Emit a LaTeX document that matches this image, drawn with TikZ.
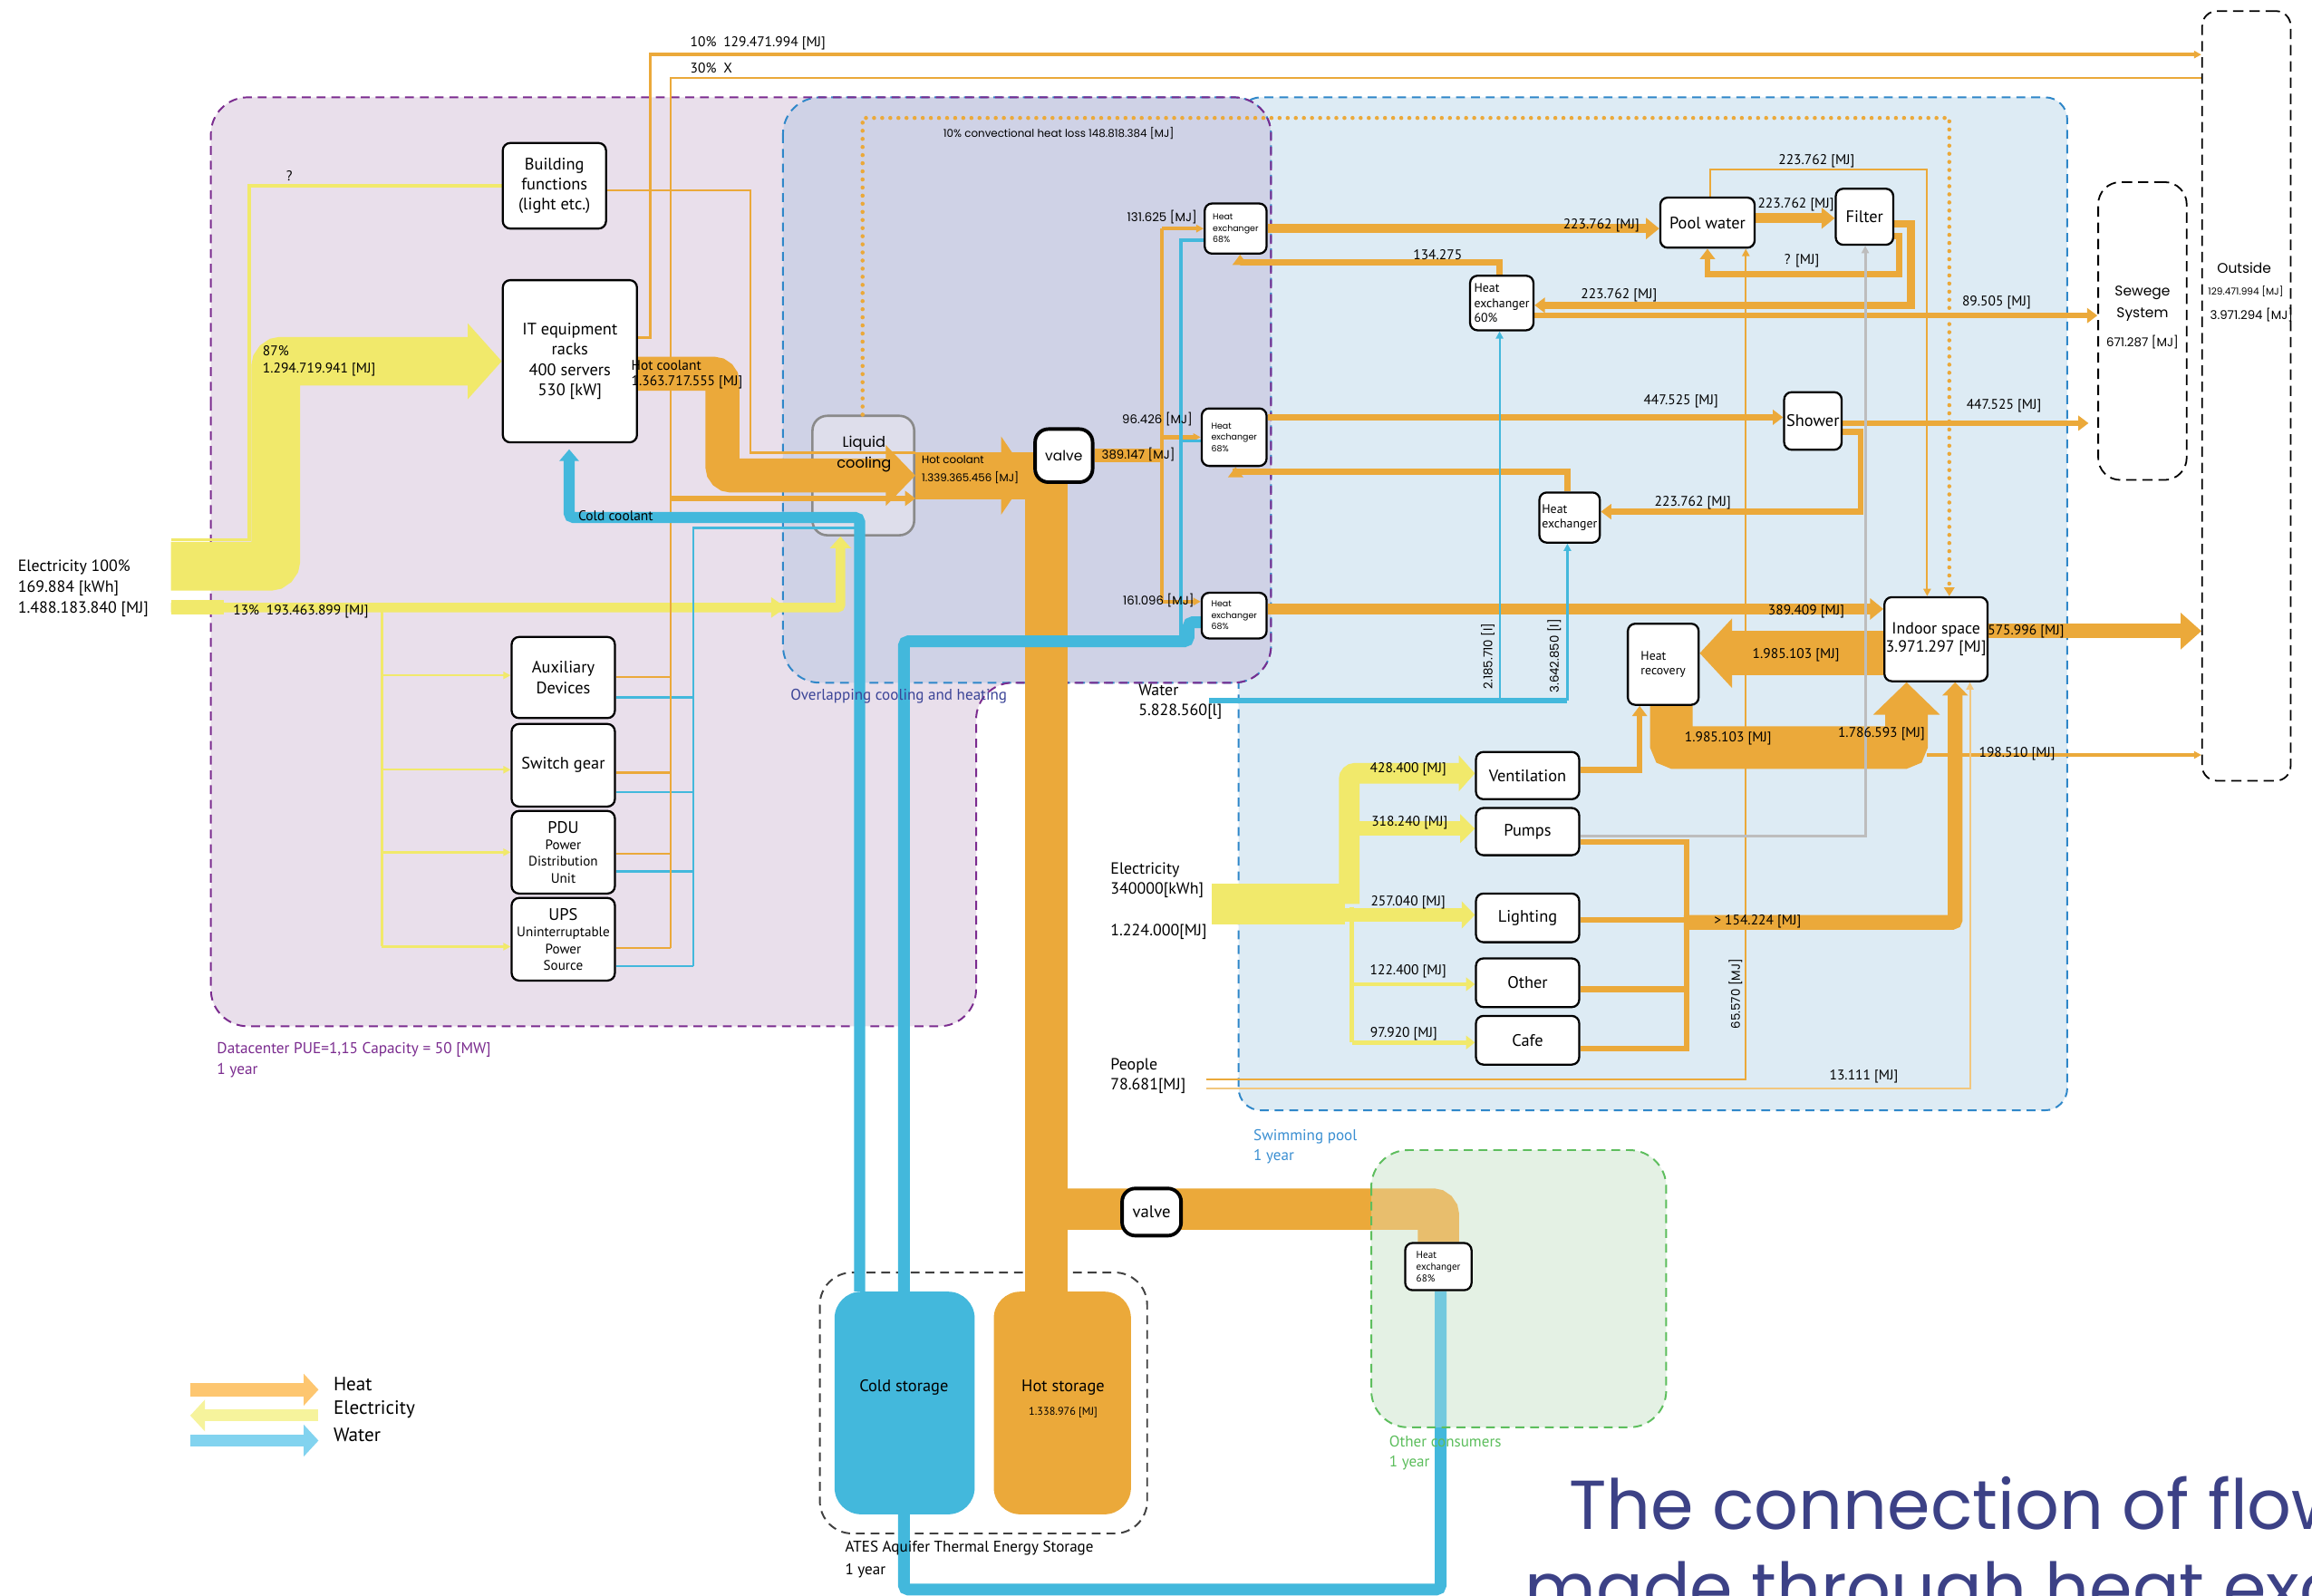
\documentclass[tikz,border=0pt]{standalone}
\usepackage{fontspec}
\setmainfont{PT Sans}
\newfontfamily\geo{Poppins}
\usetikzlibrary{arrows.meta}

\definecolor{heat}{HTML}{EBA93A}
\definecolor{heatlight}{HTML}{F2C77E}
\definecolor{elec}{HTML}{F1E96B}
\definecolor{wat}{HTML}{43B8DC}
\definecolor{dcfill}{HTML}{E9DFEB}
\definecolor{ovfill}{HTML}{CFD2E6}
\definecolor{poolfill}{HTML}{DDEBF4}
\definecolor{ocfill}{HTML}{E4F1E4}
\definecolor{dcline}{HTML}{7B2C8F}
\definecolor{blueline}{HTML}{2F87C9}
\definecolor{ocline}{HTML}{5DBE5D}
\definecolor{titleblue}{HTML}{3C4186}
\definecolor{poollab}{HTML}{3A8FD2}
\definecolor{ovlab}{HTML}{3B4497}
\definecolor{greyflow}{HTML}{BDBDBD}
\definecolor{lcgrey}{HTML}{8A8A8A}
\definecolor{lcfill}{HTML}{DEDEEB}
\definecolor{lheat}{HTML}{FDC670}
\definecolor{lelec}{HTML}{F6F39C}
\definecolor{lwat}{HTML}{82D3EF}

\newcommand\smallbox{\fontsize{9.3}{11}\selectfont}

\pgfdeclarelayer{areas}
\pgfdeclarelayer{flows}
\pgfdeclarelayer{over}
\pgfsetlayers{areas,flows,over,main}

\begin{document}
\begin{tikzpicture}[x=1pt, y=-1pt,
  box/.style={draw=black, line width=1.4pt, rounded corners=5pt, fill=white,
    align=center, inner sep=0pt, font=\fontsize{11.3}{13.8}\selectfont},
  hxbox/.style={box, align=left, font=\geo\fontsize{5.8}{7.7}\selectfont},
  hxmy/.style={box, align=left, font=\fontsize{8.5}{10.2}\selectfont},
  valvebox/.style={box, line width=2.4pt, rounded corners=9pt},
  lab/.style={inner sep=0pt, font=\fontsize{9.5}{11}\selectfont},
  glab/.style={inner sep=0pt, font=\geo\fontsize{8.2}{10}\selectfont},
  big/.style={inner sep=0pt, anchor=west, align=left, font=\fontsize{11}{14}\selectfont},
  arealab/.style={inner sep=0pt, anchor=west, align=left, font=\fontsize{10.5}{13.5}\selectfont},
  hl/.style={draw=heat, line width=#1},
  el/.style={draw=elec, line width=#1},
  wl/.style={draw=wat, line width=#1},
  sa/.style={-{Triangle[length=5pt,width=5pt]}},
  ma/.style={-{Triangle[length=7pt,width=10pt]}},
  la/.style={-{Triangle[length=9pt,width=14pt]}},
  region/.style={line width=1.2pt, dash pattern=on 6pt off 4pt},
]
\useasboundingbox (0,0) rectangle (1568,1082);
\clip (0,0) rectangle (1568,1082);

% ================= boxes =================
% data centre
\node[box, minimum width=70pt, minimum height=58pt] (bf) at (376,126) {Building\\functions\\(light etc.)};
\node[box, minimum width=91pt, minimum height=110pt] (it) at (386.5,245) {IT equipment\\racks\\400 servers\\530 [kW]};
\node[box, minimum width=70pt, minimum height=55pt] (aux) at (382,459.5) {Auxiliary\\Devices};
\node[box, minimum width=70pt, minimum height=56pt] (sw) at (382,519) {Switch gear};
\node[box, minimum width=70pt, minimum height=56pt] (pdu) at (382,578) {PDU\\[-2.5pt]{\smallbox Power}\\[-2.5pt]{\smallbox Distribution}\\[-2.5pt]{\smallbox Unit}};
\node[box, minimum width=70pt, minimum height=56pt] (ups) at (382,637) {UPS\\[-2.5pt]{\smallbox Uninterruptable}\\[-2.5pt]{\smallbox Power}\\[-2.5pt]{\smallbox Source}};
% overlapping cooling and heating
\node[valvebox, minimum width=39pt, minimum height=36pt, font=\geo\fontsize{9.5}{11}\selectfont] (valve1) at (721.5,309) {valve};
\node[hxbox, minimum width=42pt, minimum height=34pt] (hx1) at (838,155) {Heat\\exchanger\\68\%};
\node[hxbox, minimum width=44pt, minimum height=39pt] (hx2) at (837,296.5) {Heat\\exchanger\\68\%};
\node[hxbox, minimum width=44pt, minimum height=31pt] (hx3) at (837,417.5) {Heat\\exchanger\\68\%};
% swimming pool
\node[box, minimum width=64pt, minimum height=34pt] (pool) at (1158,151) {Pool water};
\node[box, minimum width=39pt, minimum height=38pt] (filt) at (1264.5,147) {Filter};
\node[hxmy, minimum width=43pt, minimum height=37pt] (hx60) at (1018.5,205.5) {Heat\\exchanger\\60\%};
\node[box, minimum width=39pt, minimum height=39pt] (shower) at (1229.5,285.5) {Shower};
\node[hxmy, minimum width=41pt, minimum height=34pt] (hx4) at (1064.5,351) {Heat\\exchanger};
\node[box, minimum width=70pt, minimum height=57pt, font=\fontsize{11}{12.8}\selectfont] (indoor) at (1313,433.5) {Indoor space\\3.971.297 [MJ]};
\node[hxmy, minimum width=48pt, minimum height=55pt] (hr) at (1128,450.5) {Heat\\recovery};
\node[box, minimum width=70pt, minimum height=32pt] (vent) at (1036,526) {Ventilation};
\node[box, minimum width=70pt, minimum height=32pt] (pumps) at (1036,564) {Pumps};
\node[box, minimum width=70pt, minimum height=33pt] (light) at (1036,622.5) {Lighting};
\node[box, minimum width=70pt, minimum height=33pt] (other) at (1036,666.5) {Other};
\node[box, minimum width=70pt, minimum height=33pt] (cafe) at (1036,705.5) {Cafe};
% other consumers
\node[valvebox, minimum width=40pt, minimum height=32pt, font=\fontsize{11.5}{13}\selectfont] (valve2) at (781,822) {valve};
\node[box, align=left, minimum width=45pt, minimum height=32pt, font=\fontsize{6.8}{8}\selectfont] (hx5) at (975.5,859) {Heat\\exchanger\\68\%};
% sinks
\node[draw=black, line width=1.1pt, dash pattern=on 7pt off 4pt, rounded corners=10pt, minimum width=60pt, minimum height=522pt, inner sep=0pt] (outside) at (1523.5,268.5) {};
\node[draw=black, line width=1.1pt, dash pattern=on 7pt off 4pt, rounded corners=15pt, minimum width=60pt, minimum height=202pt, inner sep=0pt] (sewer) at (1453,224.5) {};

% ================= areas =================
\begin{pgfonlayer}{areas}
\fill[white] (0,0) rectangle (1568,1082);
\fill[dcfill, rounded corners=25pt] (143,300) -- (143,66) -- (862,66) -- (862,463) -- (662,463) -- (662,696) -- (143,696) -- cycle;
\fill[poolfill, rounded corners=15pt] (840,66) rectangle (1402,753);
\draw[region, blueline, rounded corners=15pt] (840,66) rectangle (1402,753);
\fill[ovfill, rounded corners=25pt] (531,66) rectangle (862,463);
\draw[region, blueline, rounded corners=25pt] (531,66) rectangle (862,463);
\draw[region, dcline, rounded corners=25pt] (143,300) -- (143,66) -- (862,66) -- (862,463) -- (662,463) -- (662,696) -- (143,696) -- cycle;
\fill[ocfill, rounded corners=25pt] (930,780) rectangle (1130,968);
\draw[region, black!75, rounded corners=22pt] (556,863) rectangle (778,1040);
\node[fill=wat, rounded corners=18pt, minimum width=95pt, minimum height=151pt, inner sep=0pt] (cold) at (613.5,951.5) {};
\node[fill=heat, rounded corners=18pt, minimum width=93pt, minimum height=151pt, inner sep=0pt] (hot) at (720.5,951.5) {};
\node[draw=lcgrey, line width=1.6pt, fill=lcfill, rounded corners=10pt, minimum width=69pt, minimum height=81pt, inner sep=0pt] (lc) at (585.5,322.5) {};
\end{pgfonlayer}

% ================= flows =================
\begin{pgfonlayer}{flows}
% electricity of the data centre
\coordinate (ein) at (116,384);
\draw[el=33pt, rounded corners=4pt, -{Triangle[length=23pt,width=50pt]}] (ein) -- (187,384) -- (187,245) -- (it.west);
\draw[el=2.2pt] (116,366) -- (169,366) -- (169,126) -- (bf.west);
\draw[el=10pt] (116,412) -- (152,412);
\draw[el=6.5pt, rounded corners=2pt, -{Triangle[length=8pt,width=14pt]}] (116,412) -- (570,412) -- (lc.south -| 570,0);
\fill[elec] (523,405) -- (533,412) -- (523,419) -- cycle;
\draw[el=1.4pt] (259,412) -- (259,642);
\foreach \b/\y in {aux/458, sw/522, pdu/578, ups/642}
  \draw[el=1.4pt, sa] (259,\y) -- (\b.west |- 0,\y);
% heat and water lines of the auxiliary equipment
\foreach \b/\y in {aux/459, sw/524, pdu/579, ups/643}
  \draw[hl=1.4pt] (\b.east |- 0,\y) -- (455,\y);
\foreach \b/\y in {aux/473, sw/537, pdu/591, ups/655}
  \draw[wl=1.3pt] (\b.east |- 0,\y) -- (470,\y);
\draw[hl=1.4pt] (455,643) -- (455,53) -- (outside.west |- 0,53);
\draw[wl=1.3pt] (470,655) -- (470,358) -- (583,358);
\draw[hl=2.3pt, sa] (it.east |- 0,229) -- (441,229) -- (441,37) -- (outside.west |- 0,37);
\draw[hl=1.3pt] (bf.east |- 0,129) -- (509,129) -- (509,307) -- (lc.east |- 0,307);
% hot coolant
\draw[hl=23pt, rounded corners=6pt, -{Triangle[length=20pt,width=40pt]}] (it.east |- 0,253.5) -- (490,253.5) -- (490,322.5) -- (lc.east);
\draw[hl=4pt, -{Triangle[length=7pt,width=10pt]}] (455,338) -- (lc.east |- 0,338);
\draw[hl=32pt] (lc.east) -- (lc.east -| valve1.west);
\fill[heat] (679,296) -- (697,322.5) -- (679,349) -- cycle;
\draw[hl=29pt] (709.5,320) -- (hot.north -| 709.5,0);
\draw[hl=28pt, rounded corners=4pt] (709.5,820) -- (975.5,820) -- (hx5.north);
% valve to the heat exchangers
\draw[hl=9pt] (valve1.east) -- (788,309);
\draw[hl=2.6pt] (788,155) -- (788,408);
\draw[hl=2.6pt, sa] (788,155) -- (hx1.west);
\draw[hl=2.6pt, sa] (788,296.5) -- (hx2.west);
\draw[hl=2.6pt, sa] (788,408) -- (hx3.west |- 0,408);
% cold water
\draw[wl=7.5pt, rounded corners=3pt, shorten >=4pt, -{Triangle[length=8pt,width=13pt]}] (cold.north -| 583,0) -- (583,351) -- (386,351) -- (it.south -| 386,0);
\draw[wl=8pt, rounded corners=3pt] (cold.north -| 613,0) -- (613,435) -- (806,435) -- (806,422) -- (hx3.west |- 0,422);
\draw[wl=2.2pt] (hx1.west |- 0,163) -- (801,163) -- (801,435);
\draw[wl=2.2pt] (801,299) -- (hx2.west |- 0,299);
\draw[wl=8pt, rounded corners=3pt] (cold.south -| 613,0) -- (613,1078) -- (977,1078) -- (hx5.south -| 977,0);
% swimming pool heat
\draw[hl=6pt, la] (hx1.east) -- (pool.west |- hx1.east);
\draw[hl=7pt, la] (pool.east |- 0,148) -- (filt.west |- 0,148);
\draw[hl=1.3pt, sa] (pool.north -| 1160,0) -- (1160,115) -- (1307,115) -- (indoor.north -| 1307,0);
\draw[hl=5pt, ma] (filt.east |- 0,152) -- (1296,152) -- (1296,207) -- (hx60.east |- 0,207);
\draw[hl=4pt, ma] (filt.east |- 0,160) -- (1288,160) -- (1288,186) -- (1158,186) -- (pool.south -| 1158,0);
\draw[hl=4pt, ma] (hx60.north -| 1017,0) -- (1017,178) -- (841,178) -- (hx1.south -| 841,0);
\draw[hl=4pt, ma] (hx60.east |- 0,214) -- (sewer.west |- 0,214);
\draw[hl=4pt, ma] (hx2.east |- 0,283) -- (shower.west |- 0,283);
\draw[hl=4pt, ma, shorten >=6pt] (shower.east |- 0,287) -- (sewer.west |- 0,287);
\draw[hl=4pt, ma] (shower.east |- 0,293) -- (1262,293) -- (1262,347) -- (hx4.east |- 0,347);
\draw[hl=4pt, ma] (hx4.north -| 1063,0) -- (1063,320) -- (838,320) -- (hx2.south -| 838,0);
\draw[hl=7pt, la] (hx3.east |- 0,413) -- (indoor.west |- 0,413);
\draw[hl=30pt, -{Triangle[length=22pt,width=46pt]}] (indoor.west |- 0,443) -- (hr.east |- 0,443);
\draw[hl=29pt, rounded corners=3pt, -{Triangle[length=22pt,width=44pt]}] (hr.south -| 1133.5,0) -- (1133.5,507) -- (1293,507) -- (indoor.south -| 1293,0);
\draw[hl=2.5pt, sa] (1307,512) -- (outside.west |- 0,512);
\draw[hl=10pt, -{Triangle[length=14pt,width=24pt]}] (indoor.east |- 0,428) -- (outside.west |- 0,428);
\draw[hl=4pt, ma] (vent.east |- 0,522) -- (1112,522) -- (hr.south -| 1112,0);
\draw[hl=4pt] (pumps.east |- 0,571) -- (1144,571) -- (1144,711) -- (cafe.east |- 0,711);
\draw[hl=4pt] (light.east |- 0,624) -- (1144,624);
\draw[hl=4pt] (other.east |- 0,671) -- (1144,671);
\draw[hl=10pt, rounded corners=2pt, -{Triangle[length=9pt,width=17pt]}] (1142,625.5) -- (1326,625.5) -- (indoor.south -| 1326,0);
% swimming pool electricity
\coordinate (ein2) at (822,613);
\draw[el=28pt] (ein2) -- (912,613);
\draw[el=14pt, rounded corners=4pt, -{Triangle[length=11pt,width=24pt]}] (915,613) -- (915,524.5) -- (vent.west |- 0,524.5);
\draw[el=10pt, -{Triangle[length=10pt,width=19pt]}] (918,562) -- (pumps.west |- 0,562);
\draw[el=9pt, -{Triangle[length=9pt,width=18pt]}] (905,620.5) -- (light.west |- 0,620.5);
\draw[el=3pt] (917,615) -- (917,707);
\draw[el=3pt, -{Triangle[length=6pt,width=9pt]}] (917,667.5) -- (other.west |- 0,667.5);
\draw[el=3pt, -{Triangle[length=6pt,width=9pt]}] (917,707) -- (cafe.west |- 0,707);
% people
\coordinate (pin) at (818,732);
\draw[hl=1.2pt, sa] (pin) -- (1184,732) -- (pool.south -| 1184,0);
\draw[draw=heatlight, line width=1.2pt, sa] (818,738) -- (1336,738) -- (indoor.south -| 1336,0);
% pumps to filter
\draw[draw=greyflow, line width=1.8pt, sa] (pumps.east |- 0,567) -- (1265,567) -- (filt.south -| 1265,0);
% tap water
\coordinate (win) at (820,475);
\draw[wl=4pt] (win) -- (1063,475);
\draw[wl=2pt, sa] (1063,475) -- (hx4.south -| 1063,0);
\draw[wl=1.3pt, sa] (1017,475) -- (hx60.south -| 1017,0);
% convection loss
\draw[draw=heat, line width=2.8pt, line cap=round, dash pattern=on 0pt off 5.5pt, -{Triangle[length=6pt,width=7pt]}] (lc.north -| 585,0) -- (585,80) -- (1322,80) -- (indoor.north -| 1322,0);
\end{pgfonlayer}

% ================= other consumers area =================
\begin{pgfonlayer}{over}
\fill[ocfill, opacity=0.3, rounded corners=25pt] (930,780) rectangle (1130,968);
\draw[region, ocline, rounded corners=25pt] (930,780) rectangle (1130,968);
\end{pgfonlayer}

% ================= texts =================
\node[big] (elec1) at (12,399) {Electricity 100\%\\169.884 [kWh]\\1.488.183.840 [MJ]};
\node[lab, anchor=west] (lq) at (194,119) {?};
\node[lab, anchor=west, align=left, font=\fontsize{9.5}{11.5}\selectfont] (l87) at (178,245) {87\%\\1.294.719.941 [MJ]};
\node[lab, anchor=west] (l13) at (158,415) {13\%\enspace 193.463.899 [MJ]};
\node[lab, anchor=west, align=left, font=\fontsize{9.5}{10.5}\selectfont] (lhc) at (428,254) {Hot coolant\\1.363.717.555 [MJ]};
\node[lab, anchor=west] (lcc) at (392,350) {Cold coolant};
\node[lab, anchor=west] (l10) at (468,29.5) {10\%\enspace 129.471.994 [MJ]};
\node[lab, anchor=west] (l30) at (468,46) {30\%\enspace X};
\node[inner sep=0pt, align=center, font=\geo\fontsize{10}{14.5}\selectfont] (llc) at (586,308) {Liquid\\cooling};
\node[inner sep=0pt, anchor=west, align=left, font=\geo\fontsize{7.3}{12}\selectfont] (lhc2) at (625,318.5) {Hot coolant\\1.339.365.456 [MJ]};
\node[glab, anchor=west] (l389) at (747,308.5) {389.147 [MJ]};
\node[glab, anchor=east] (l131) at (812,147) {131.625 [MJ]};
\node[glab, anchor=east] (l96) at (809,284) {96.426 [MJ]};
\node[glab, anchor=east] (l161) at (810,407.5) {161.096 [MJ]};
\node[inner sep=0pt, font=\geo\fontsize{7.3}{9}\selectfont] (lconv) at (718,90.5) {10\% convectional heat loss 148.818.384 [MJ]};

\node[lab] (p1) at (1086,153) {223.762 [MJ]};
\node[lab] (p2) at (1218,139) {223.762 [MJ]};
\node[lab] (p3) at (1232,109) {223.762 [MJ]};
\node[lab] (p4) at (975,173) {134.275};
\node[lab] (p5) at (1222,177) {? [MJ]};
\node[lab] (p6) at (1098,200) {223.762 [MJ]};
\node[lab] (p7) at (1354,205) {89.505 [MJ]};
\node[lab] (p8) at (1140,272) {447.525 [MJ]};
\node[lab] (p9) at (1359,275) {447.525 [MJ]};
\node[lab] (p10) at (1148,341) {223.762 [MJ]};
\node[lab] (p11) at (1225,415) {389.409 [MJ]};
\node[lab] (p12) at (1218,444) {1.985.103 [MJ]};
\node[lab] (p13) at (1172,501) {1.985.103 [MJ]};
\node[lab] (p14) at (1276,498) {1.786.593 [MJ]};
\node[lab] (p15) at (1374,428) {575.996 [MJ]};
\node[lab] (p16) at (1368,511) {198.510 [MJ]};
\node[lab] (p17) at (1192,625) {> 154.224 [MJ]};
\node[lab] (p18) at (1264,730) {13.111 [MJ]};
\node[lab] (y1) at (955,522) {428.400 [MJ]};
\node[lab] (y2) at (956,558) {318.240 [MJ]};
\node[lab] (y3) at (955,612) {257.040 [MJ]};
\node[lab] (y4) at (955,659) {122.400 [MJ]};
\node[lab] (y5) at (952,701) {97.920 [MJ]};
\node[glab, rotate=90] (lw1) at (1009,445) {2.185.710 [l]};
\node[glab, rotate=90] (lw2) at (1054,445) {3.642.850 [l]};
\node[glab, rotate=90] (lp1) at (1177,674) {65.570 [MJ]};

\node[big, font=\fontsize{11}{13.5}\selectfont] (lwater) at (772,476) {Water\\5.828.560[l]};
\node[big] (lel2) at (753,611) {Electricity\\340000[kWh]\\[14pt]1.224.000[MJ]};
\node[big, font=\fontsize{11}{13.5}\selectfont] (lpeople) at (753,729.5) {People\\78.681[MJ]};

\node[arealab, text=dcline, font=\fontsize{10.6}{14}\selectfont] (ldc) at (147,719) {Datacenter PUE=1,15 Capacity = 50 [MW]\\1 year};
\node[arealab, text=ovlab] (lov) at (536,472) {Overlapping cooling and heating};
\node[arealab, text=poollab] (lpool) at (850,777.5) {Swimming pool\\1 year};
\node[arealab, text=ocline] (loc) at (942,985.5) {Other consumers\\1 year};
\node[arealab, font=\fontsize{10.5}{15}\selectfont] (lates) at (573,1057.5) {ATES Aquifer Thermal Energy Storage\\1 year};

\node[inner sep=0pt, font=\fontsize{11.3}{13}\selectfont] (lcold) at (613,941) {Cold storage};
\node[inner sep=0pt, font=\fontsize{11.3}{13}\selectfont] (lhot) at (721,941) {Hot storage};
\node[inner sep=0pt, font=\fontsize{7.5}{9}\selectfont] (lhotv) at (721,958) {1.338.976 [MJ]};

\node[inner sep=0pt, font=\geo\fontsize{9.5}{11}\selectfont] (lout) at (1522,182) {Outside};
\node[inner sep=0pt, font=\geo\fontsize{6.5}{8}\selectfont] (lout1) at (1523,197.5) {129.471.994 [MJ]};
\node[inner sep=0pt, font=\geo\fontsize{8.2}{10}\selectfont] (lout2) at (1527,213.5) {3.971.294 [MJ]};
\node[inner sep=0pt, align=center, font=\geo\fontsize{9.5}{14.5}\selectfont] (lsew) at (1453,206) {Sewege\\System};
\node[inner sep=0pt, font=\geo\fontsize{8.2}{10}\selectfont] (lsew2) at (1453,232) {671.287 [MJ]};

% legend
\draw[lheat, line width=9pt, -{Triangle[length=10pt,width=21pt]}] (129,942.5) -- (216,942.5);
\draw[lelec, line width=8pt, -{Triangle[length=10pt,width=21pt]}] (216,960) -- (129,960);
\draw[lwat, line width=8pt, -{Triangle[length=10pt,width=21pt]}] (129,977) -- (216,977);
\node[anchor=west, inner sep=0pt, font=\fontsize{13}{15}\selectfont] (legh) at (226,939) {Heat};
\node[anchor=west, inner sep=0pt, font=\fontsize{13}{15}\selectfont] (lege) at (226,956) {Electricity};
\node[anchor=west, inner sep=0pt, font=\fontsize{13}{15}\selectfont] (legw) at (226,973) {Water};

% heading
\node[anchor=base west, inner sep=0pt, text=titleblue, font=\geo\fontsize{47}{56}\selectfont] (title1) at (1064,1037) {The connection of flows};
\node[anchor=base west, inner sep=0pt, text=titleblue, font=\geo\fontsize{47}{56}\selectfont] (title2) at (1034,1094) {made through heat exchangers};
\end{tikzpicture}
\end{document}
